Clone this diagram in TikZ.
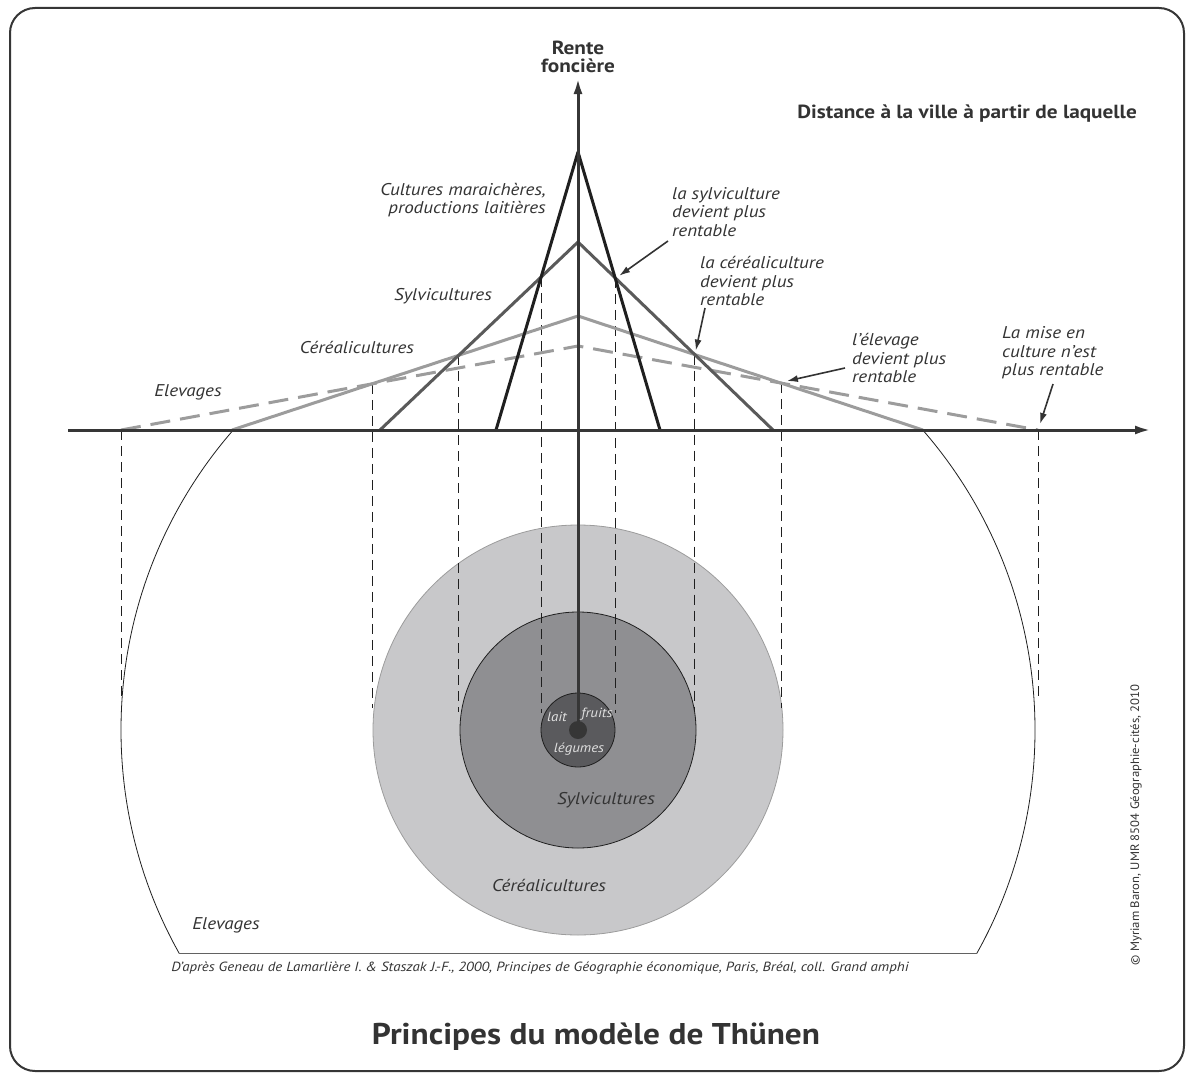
\documentclass[tikz,border=0pt]{standalone}
\usepackage{fontspec}
\setmainfont{PT Sans}[FakeStretch=1.12]
\newfontfamily\titlefam{PT Sans}[FakeStretch=1.11]
\newfontfamily\plainfam{PT Sans}[FakeStretch=1.04]
\usetikzlibrary{arrows.meta,calc}
\definecolor{ink}{HTML}{333333}
\definecolor{axisc}{HTML}{363636}
\definecolor{c1}{HTML}{1f1f1f}
\definecolor{c2}{HTML}{5a5a5a}
\definecolor{c3}{HTML}{9c9c9c}
\definecolor{ringA}{HTML}{C8C8CA}
\definecolor{ringB}{HTML}{8F8F92}
\definecolor{ringC}{HTML}{5A5A5D}
\begin{document}
\begin{tikzpicture}[x=1pt,y=-1pt,
  frame/.style={draw=axisc,line width=2pt,rounded corners=25pt},
  axisline/.style={draw=axisc,line width=3pt,-{Latex[length=16pt,width=9pt]}},
  curve/.style={line width=3pt,line join=round},
  guide/.style={draw=c1,line width=0.7pt,dash pattern=on 10pt off 6pt},
  lbl/.style={font=\fontsize{17}{18.5}\selectfont\itshape,text=ink,inner sep=0pt},
  blbl/.style={font=\fontsize{19}{20.5}\selectfont\bfseries,text=ink,inner sep=0pt},
  tinylbl/.style={font=\fontsize{13.3}{14}\selectfont\itshape,text=white!88!black,inner sep=0pt},
  pointer/.style={draw=ink,line width=1.6pt,-{Latex[length=11pt,width=7pt]}}]
\useasboundingbox (0,0) rectangle (1188,1073);
\draw[frame] (10,8) rectangle (1184,1071);

% key points
\coordinate (C) at (578,730);
\coordinate (A1) at (578,152); \coordinate (L1) at (496,430); \coordinate (R1) at (660,430);
\coordinate (A2) at (578,242); \coordinate (L2) at (380,430); \coordinate (R2) at (773,430);
\coordinate (A3) at (578,316); \coordinate (L3) at (232,430); \coordinate (R3) at (923,430);
\coordinate (A4) at (578,346); \coordinate (L4) at (121,430); \coordinate (R4) at (1038,430);
\coordinate (I1L) at (intersection of L1--A1 and L2--A2);
\coordinate (I2L) at (intersection of L2--A2 and L3--A3);
\coordinate (I3L) at (intersection of L3--A3 and L4--A4);
\coordinate (I1R) at (intersection of R1--A1 and R2--A2);
\coordinate (I2R) at (intersection of R2--A2 and R3--A3);
\coordinate (I3R) at (intersection of R3--A3 and R4--A4);

% outer Elevages zone
\begin{scope}
\clip (0,430) rectangle (1188,953);
\draw[c1,line width=0.8pt] (C) circle (457);
\end{scope}
\draw[c1!70,line width=0.8pt] (179,953) -- (977,953);

% rings
\draw[fill=ringA,draw=c3,line width=0.8pt] (C) circle (205);
\draw[fill=ringB,draw=c1,line width=0.8pt] (C) circle (118);
\draw[fill=ringC,draw=c1,line width=0.8pt] (C) circle (37);

% guides
\foreach \p/\e in {L4/700,I3L/708,I2L/712,I1L/713,I1R/713,I2R/712,I3R/708,R4/700}
  \draw[guide] (\p) -- ($(\p |- C)+(0,\e-730)$);

% rent curves
\draw[curve,c3,dash pattern=on 20pt off 10pt] (L4) -- (A4) -- (R4);
\draw[curve,c3] (L3) -- (A3) -- (R3);
\draw[curve,c2] (L2) -- (A2) -- (R2);
\draw[curve,c1] (L1) -- (A1) -- (R1);

% axes
\draw[axisline] (68,430) -- (1151,430);
\draw[axisline] (C) -- (578,78);
\fill[axisc] (C) circle (9);

% labels
\node[blbl,align=center] (rente) at (578,57) {Rente\\[-3pt]foncière};
\node[blbl,anchor=east] (dist) at (1137,114) {Distance à la ville à partir de laquelle};
\node[lbl,anchor=east,align=right] (cult) at (546,200) {Cultures maraichères,\\productions laitières};
\node[lbl] (sylv) at (443,296) {Sylvicultures};
\node[lbl] (cere) at (357,347) {Céréalicultures};
\node[lbl] (elev) at (188,392) {Elevages};

\node[lbl,anchor=west,align=left] (t1) at (672,212) {la sylviculture\\devient plus\\rentable};
\node[lbl,anchor=west,align=left] (t2) at (700,281) {la céréaliculture\\devient plus\\rentable};
\node[lbl,anchor=west,align=left] (t3) at (852,358) {l'élevage\\devient plus\\rentable};
\node[lbl,anchor=west,align=left] (t4) at (1002,353) {La mise en\\culture n'est\\plus rentable};

\coordinate (s1) at (668,241);
\coordinate (s2) at (705,308);
\coordinate (s3) at (845,368);
\coordinate (s4) at (1053,384);
\coordinate (e1) at ($(I1R)+(4,-2)$);
\coordinate (e2) at ($(I2R)+(1,-4)$);
\coordinate (e3) at ($(I3R)+(6,-2)$);
\coordinate (e4) at (1040,424);
\draw[pointer] (s1) -- (e1);
\draw[pointer] (s2) -- (e2);
\draw[pointer] (s3) -- (e3);
\draw[pointer] (s4) -- (e4);

\node[tinylbl] (lait) at (557,717) {lait};
\node[tinylbl] (fruits) at (597,714) {fruits};
\node[tinylbl] (leg) at (579,749) {légumes};
\node[lbl] (sylv2) at (606,800) {Sylvicultures};
\node[lbl] (cere2) at (549,885) {Céréalicultures};
\node[lbl] (elev2) at (226,925) {Elevages};

\node[font=\fontsize{13.3}{14}\selectfont\itshape,text=ink,inner sep=0pt] (credit) at (540,968) {D'après Geneau de Lamarlière I. \& Staszak J.-F., 2000, Principes de Géographie économique, Paris, Bréal, coll. Grand amphi};
\node[font=\titlefam\fontsize{30}{34}\selectfont\bfseries,text=ink,inner sep=0pt] (title) at (596,1037) {Principes du modèle de Thünen};
\node[font=\plainfam\fontsize{12.2}{14}\selectfont,text=ink,inner sep=0pt,rotate=90] (copy) at (1136,825) {© Myriam Baron, UMR 8504 Géographie-cités, 2010};
\end{tikzpicture}
\end{document}
